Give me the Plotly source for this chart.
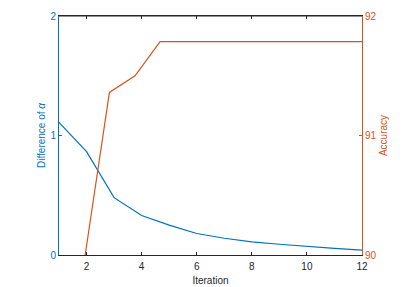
import plotly.graph_objects as go

iterations = [1, 2, 3, 4, 5, 6, 7, 8, 9, 10, 11, 12]
diff_alpha = [1.11, 0.865, 0.48, 0.33, 0.25, 0.18, 0.14, 0.11, 0.09, 0.07, 0.055, 0.04]
acc_x = [1.95, 2.83, 3.76, 4.67, 12]
accuracy = [90.0, 91.36, 91.50, 91.785, 91.785]
x_ticks = [2, 4, 6, 8, 10, 12]

BLUE = "#0072BD"
ORANGE = "#D95319"
DARK = "#262626"
FONT = "Liberation Sans, Arial, sans-serif"

fig = go.Figure()
fig.add_trace(go.Scatter(x=iterations, y=diff_alpha, mode="lines",
                         line=dict(color=BLUE, width=1.2), yaxis="y", showlegend=False))
fig.add_trace(go.Scatter(x=acc_x, y=accuracy, mode="lines",
                         line=dict(color=ORANGE, width=1.2), yaxis="y2", showlegend=False))

fig.update_layout(
    width=410, height=287,
    margin=dict(l=59, r=48, t=16, b=32, autoexpand=False),
    paper_bgcolor="white", plot_bgcolor="white",
    font=dict(family=FONT, size=10, color=DARK),
    xaxis=dict(range=[1, 12], tickvals=x_ticks, ticks="inside", ticklen=3,
               tickcolor=DARK, showline=True, linecolor=DARK, linewidth=1,
               mirror="ticks", showgrid=False, zeroline=False, automargin=False,
               ticklabelstandoff=2,
               title=dict(text="Iteration", standoff=5, font=dict(size=10, color=DARK)),
               tickfont=dict(size=10, color=DARK)),
    yaxis=dict(range=[0, 2], tickvals=[0, 1, 2], ticks="inside", ticklen=3,
               tickcolor=BLUE, showline=True, linecolor=BLUE, linewidth=1,
               showgrid=False, zeroline=False, automargin=False,
               title=dict(text="Difference of <i>α</i>", standoff=2, font=dict(size=10, color=BLUE)),
               tickfont=dict(size=10, color=BLUE)),
    yaxis2=dict(range=[90, 92], tickvals=[90, 91, 92], ticks="inside", ticklen=3,
                tickcolor=ORANGE, showline=True, linecolor=ORANGE, linewidth=1,
                overlaying="y", side="right", showgrid=False, zeroline=False, automargin=False,
                title=dict(text="Accuracy", standoff=4, font=dict(size=10, color=ORANGE)),
                tickfont=dict(size=10, color=ORANGE)),
)
fig.add_shape(type="line", xref="paper", yref="paper", x0=0, x1=1, y0=1, y1=1,
              line=dict(color=DARK, width=1))

fig.write_html("out.html", config={"displayModeBar": False},
               post_script="document.body.style.margin='0';")
